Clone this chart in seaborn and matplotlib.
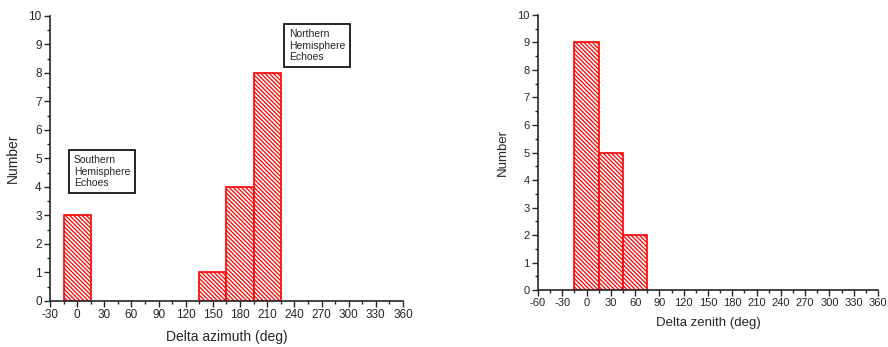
import numpy as np
import pandas as pd
import matplotlib
matplotlib.use('Agg')
import matplotlib.pyplot as plt
import seaborn as sns

# histogram data: bin centres (deg) and counts
az_centers = [0, 150, 180, 210]
az_counts = [3, 1, 4, 8]
zen_centers = [0, 30, 60]
zen_counts = [9, 5, 2]

az_ticks = list(range(-30, 361, 30))
zen_ticks = list(range(-60, 361, 30))

sns.set_style('ticks')
plt.rcParams['font.family'] = ['Liberation Sans', 'DejaVu Sans']
plt.rcParams['axes.unicode_minus'] = False
plt.rcParams['hatch.color'] = 'red'
plt.rcParams['hatch.linewidth'] = 0.9


def draw_hist(ax, centers, counts, xticks, xlabel, tick_fs, label_fs):
    df = pd.DataFrame({'x': centers, 'n': counts})
    edges = [float(e) for e in np.arange(-15, 361, 30)]
    sns.histplot(data=df, x='x', weights='n', bins=edges, ax=ax,
                 color='white', edgecolor='red', linewidth=1.2, alpha=1)
    for p in ax.patches:
        if p.get_height() > 0:
            p.set_hatch('\\' * 8)
        else:
            p.set_visible(False)
    ax.set_xlim(xticks[0], xticks[-1])
    ax.set_ylim(0, 10)
    ax.set_xticks(xticks)
    ax.set_xticks(np.arange(xticks[0], xticks[-1] + 1, 15), minor=True)
    ax.set_yticks(range(0, 11))
    ax.set_yticks(np.arange(0, 10.01, 0.5), minor=True)
    ax.tick_params(which='major', length=4, width=1, labelsize=tick_fs, pad=2)
    ax.tick_params(which='minor', length=2, width=1)
    ax.set_xlabel(xlabel, fontsize=label_fs, labelpad=6)
    ax.set_ylabel('Number', fontsize=label_fs, labelpad=6)
    sns.despine(ax=ax)
    for s in ['left', 'bottom']:
        ax.spines[s].set_linewidth(1.2)


fig = plt.figure(figsize=(8.88, 3.47), dpi=100)
ax1 = fig.add_axes([0.0563, 0.1326, 0.3975, 0.8214])
ax2 = fig.add_axes([0.6059, 0.164, 0.3828, 0.793])

draw_hist(ax1, az_centers, az_counts, az_ticks, 'Delta azimuth (deg)', 8.5, 10)
draw_hist(ax2, zen_centers, zen_counts, zen_ticks, 'Delta zenith (deg)', 8, 9.5)

box = dict(boxstyle='square,pad=0.45', facecolor='white', edgecolor='black', linewidth=1.2)
ax1.text(-3.5, 4.54, 'Southern\nHemisphere\nEchoes', fontsize=7.5, va='center',
         ha='left', bbox=box, linespacing=1.2)
ax1.text(234, 8.96, 'Northern\nHemisphere\nEchoes', fontsize=7.5, va='center',
         ha='left', bbox=box, linespacing=1.2)

fig.savefig('out.png', dpi=100)
